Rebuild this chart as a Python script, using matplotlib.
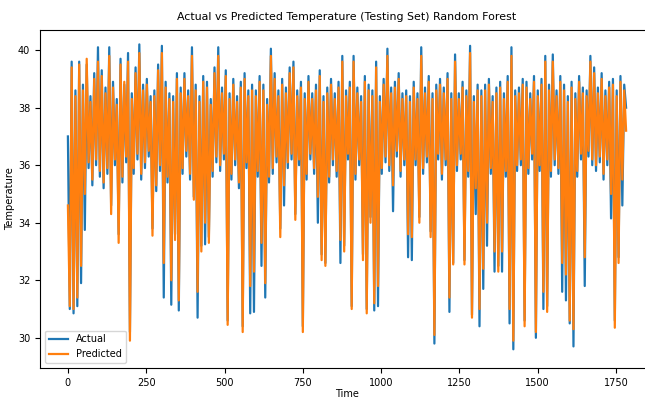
import matplotlib
matplotlib.use("Agg")
import matplotlib.pyplot as plt
import numpy as np

# values, one sample every 6 time steps
actual = [
    37.0, 31.0, 39.6, 30.85, 38.6, 31.1, 39.6, 31.9, 38.8, 33.75, 39.5, 35.9, 38.4, 35.3, 39.2, 36.0, 40.1, 35.6, 39.3, 35.2,
    38.7, 35.7, 40.1, 34.6, 38.9, 36.0, 38.3, 33.6, 39.7, 35.4, 38.8, 36.1, 39.9, 30.2, 38.5, 35.7, 39.4, 36.2, 40.2, 35.5,
    38.8, 35.9, 39.0, 36.3, 38.4, 33.8, 38.6, 35.1, 39.5, 35.8, 40.15, 31.4, 38.9, 35.4, 38.5, 31.15, 38.4, 33.6, 39.2, 30.95,
    38.7, 35.7, 39.2, 36.3, 38.6, 35.5, 40.1, 34.9, 38.8, 30.7, 38.4, 33.2, 39.1, 33.25, 38.9, 33.5, 38.3, 35.6, 39.4, 36.1,
    40.1, 35.8, 38.7, 36.2, 39.3, 30.6, 38.5, 35.5, 39.0, 36.0, 38.4, 35.2, 38.9, 30.4, 39.2, 35.9, 38.6, 30.85, 38.8, 30.9,
    38.6, 35.6, 39.1, 32.5, 38.8, 31.4, 38.3, 35.4, 40.05, 35.7, 39.2, 36.1, 38.6, 33.8, 39.0, 34.6, 38.7, 35.9, 39.4, 36.2,
    39.6, 34.3, 38.6, 36.0, 38.9, 30.4, 38.5, 35.5, 39.1, 36.2, 38.5, 35.7, 38.8, 34.0, 39.3, 32.9, 38.4, 32.6, 38.7, 35.4,
    39.0, 36.0, 38.5, 35.6, 38.9, 32.6, 39.8, 33.2, 38.6, 36.2, 38.9, 31.1, 39.8, 35.5, 38.7, 36.0, 38.4, 32.9, 39.1, 31.0,
    38.8, 34.2, 38.6, 30.95, 39.6, 31.1, 38.4, 35.7, 39.0, 36.1, 40.05, 35.8, 38.7, 34.4, 38.9, 36.3, 39.2, 35.6, 38.5, 36.0,
    38.6, 32.8, 38.4, 32.7, 38.9, 36.0, 38.5, 34.2, 40.1, 35.7, 38.7, 36.1, 39.1, 33.7, 38.5, 29.8, 38.8, 36.2, 39.0, 35.5,
    38.7, 36.0, 39.2, 30.9, 38.5, 32.6, 39.85, 35.8, 38.5, 36.2, 38.9, 32.7, 38.6, 35.6, 40.15, 30.8, 38.4, 34.3, 38.8, 30.4,
    38.6, 31.7, 38.8, 33.2, 39.0, 35.7, 38.4, 32.3, 38.7, 32.5, 38.9, 32.3, 38.5, 35.6, 39.1, 30.5, 40.1, 29.6, 38.6, 35.8,
    38.7, 36.0, 39.0, 30.6, 38.9, 35.7, 38.5, 36.2, 39.1, 30.0, 38.6, 35.8, 39.0, 31.0, 39.8, 31.1, 38.8, 35.6, 39.85, 36.0,
    38.6, 35.7, 39.1, 31.6, 38.8, 31.3, 38.4, 30.5, 38.9, 29.7, 38.5, 35.6, 39.1, 36.2, 38.7, 31.8, 38.6, 36.3, 39.8, 36.0,
    39.4, 35.8, 38.7, 36.1, 39.2, 35.5, 38.6, 36.0, 38.9, 34.15, 39.0, 30.6, 38.6, 32.8, 39.1, 34.6, 38.8, 38.0,
]
predicted = [
    34.6, 31.1, 39.4, 31.0, 38.4, 31.4, 39.5, 32.5, 38.6, 35.0, 39.7, 36.1, 38.2, 35.5, 39.0, 36.2, 39.6, 35.8, 39.1, 35.4,
    38.5, 35.9, 39.8, 34.3, 38.7, 36.2, 38.1, 33.3, 39.5, 35.6, 38.9, 36.3, 39.6, 29.9, 38.3, 35.9, 39.2, 36.4, 39.9, 35.7,
    38.6, 36.1, 38.8, 36.5, 38.2, 33.55, 38.4, 35.3, 39.3, 36.0, 39.9, 32.6, 38.7, 35.6, 38.3, 32.0, 38.2, 33.4, 39.0, 31.3,
    38.5, 35.9, 39.0, 36.5, 38.4, 35.7, 39.8, 34.8, 38.6, 31.6, 38.2, 33.0, 38.9, 34.0, 38.7, 33.3, 38.1, 35.8, 39.2, 36.3,
    39.8, 36.0, 38.5, 36.4, 39.1, 30.45, 38.3, 35.7, 38.8, 36.2, 38.2, 35.4, 38.7, 30.2, 39.0, 36.1, 38.4, 31.8, 38.6, 32.3,
    38.4, 35.8, 38.9, 33.3, 38.6, 31.9, 38.1, 35.6, 39.8, 35.9, 39.0, 36.3, 38.4, 33.5, 38.8, 35.3, 38.5, 36.1, 39.2, 36.4,
    39.4, 34.1, 38.4, 36.2, 38.7, 30.2, 38.3, 35.7, 38.9, 36.4, 38.3, 35.9, 38.6, 34.9, 39.1, 32.7, 38.2, 32.5, 38.5, 35.6,
    38.8, 36.2, 38.3, 35.8, 38.7, 33.4, 39.6, 33.0, 38.4, 36.4, 38.7, 31.0, 39.6, 35.7, 38.5, 36.2, 38.2, 32.7, 38.9, 30.85,
    38.6, 34.0, 38.4, 31.2, 39.4, 31.8, 38.2, 35.9, 38.8, 36.3, 39.8, 36.0, 38.5, 35.3, 38.7, 36.5, 39.0, 35.8, 38.3, 36.2,
    38.4, 33.6, 38.2, 33.5, 38.7, 36.2, 38.3, 34.0, 39.8, 35.9, 38.5, 36.3, 38.9, 33.5, 38.3, 30.1, 38.6, 36.4, 38.8, 35.7,
    38.5, 36.2, 39.0, 31.4, 38.3, 32.55, 39.6, 36.0, 38.3, 36.4, 38.7, 32.55, 38.4, 35.8, 39.9, 30.7, 38.2, 35.2, 38.6, 31.0,
    38.4, 32.4, 38.6, 34.0, 38.8, 35.9, 38.2, 33.0, 38.5, 32.3, 38.7, 33.0, 38.3, 35.8, 38.9, 31.0, 39.8, 29.9, 38.4, 36.0,
    38.5, 36.2, 38.8, 30.4, 38.7, 35.9, 38.3, 36.4, 38.9, 30.2, 38.4, 36.0, 38.8, 31.6, 39.6, 30.9, 38.6, 35.8, 39.6, 36.2,
    38.4, 35.9, 38.9, 32.6, 38.6, 32.2, 38.2, 30.6, 38.7, 30.3, 38.3, 35.8, 38.9, 36.4, 38.5, 32.8, 38.4, 36.5, 39.6, 36.2,
    39.2, 36.0, 38.5, 36.3, 39.0, 35.7, 38.4, 36.2, 38.7, 35.0, 38.8, 30.35, 38.4, 32.6, 38.9, 35.5, 38.6, 37.2,
]
time = np.arange(len(actual)) * 6

fig = plt.figure(figsize=(6.45, 3.98), dpi=100)
ax = fig.add_axes([40 / 645, 1 - 368 / 398, 614 / 645, 338 / 398])

ax.plot(time, actual, label="Actual", linewidth=1.6)
ax.plot(time, predicted, label="Predicted", linewidth=1.6)

ax.set_ylim(28.95, 40.7)
ax.set_xticks([0, 250, 500, 750, 1000, 1250, 1500, 1750])
ax.set_yticks([30, 32, 34, 36, 38, 40])
ax.tick_params(labelsize=7)
ax.set_title("Actual vs Predicted Temperature (Testing Set) Random Forest", fontsize=7.9, pad=7)
ax.set_xlabel("Time", fontsize=7, labelpad=1)
ax.set_ylabel("Temperature", fontsize=7.2, labelpad=2)
ax.legend(loc="lower left", fontsize=7)

fig.savefig("out.png", dpi=100)
